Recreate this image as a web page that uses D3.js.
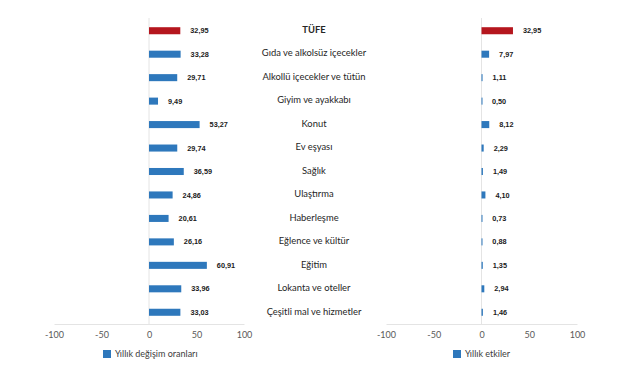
<!DOCTYPE html>
<html><head><meta charset="utf-8">
<script src="https://cdn.jsdelivr.net/npm/d3@7"></script>
<style>body{margin:0;background:#fff}svg{display:block}</style>
</head><body><svg id="c" width="641" height="380"></svg>
<script>
const categories = ["TÜFE","Gıda ve alkolsüz içecekler","Alkollü içecekler ve tütün","Giyim ve ayakkabı","Konut","Ev eşyası","Sağlık","Ulaştırma","Haberleşme","Eğlence ve kültür","Eğitim","Lokanta ve oteller","Çeşitli mal ve hizmetler"];
const yearlyChange = [32.95,33.28,29.71,9.49,53.27,29.74,36.59,24.86,20.61,26.16,60.91,33.96,33.03];
const yearlyEffect = [32.95,7.97,1.11,0.50,8.12,2.29,1.49,4.10,0.73,0.88,1.35,2.94,1.46];
const ticks = [-100,-50,0,50,100];
const legendLeft = "Yıllık değişim oranları";
const legendRight = "Yıllık etkiler";

const svg = d3.select("#c");
const blue = "#2E78BC", red = "#B5161E";
const fmt = v => v.toFixed(2).replace(".", ",");
const y = d3.scaleBand().domain(categories).range([19, 324]).paddingInner(0.7).paddingOuter(0.35);

function panel(values, x0, x1, legend, legX) {
  const x = d3.scaleLinear().domain([-100, 100]).range([x0, x1]);
  const g = svg.append("g");
  g.append("line").attr("x1", x(0)).attr("x2", x(0)).attr("y1", 18).attr("y2", 324)
    .attr("stroke", "#e4e4e4").attr("stroke-width", 1);
  const ax = g.append("g").attr("transform", "translate(0,324)")
    .call(d3.axisBottom(x).tickValues(ticks).tickSize(0).tickPadding(8).tickFormat(d => d));
  ax.select(".domain").attr("stroke", "#e4e4e4");
  ax.selectAll("text").attr("fill", "#595959").style("font-family", "Lato, 'Open Sans', sans-serif").style("font-size", "9px");
  g.selectAll("rect.bar").data(values).enter().append("rect")
    .attr("x", d => x(Math.min(0, d)))
    .attr("y", (d, i) => y(categories[i]))
    .attr("width", d => Math.max(1, Math.abs(x(d) - x(0))))
    .attr("height", y.bandwidth())
    .attr("fill", (d, i) => i === 0 ? red : blue);
  g.selectAll("text.val").data(values).enter().append("text")
    .attr("x", d => x(d) + 10)
    .attr("y", (d, i) => y(categories[i]) + y.bandwidth() / 2)
    .attr("dy", "0.35em")
    .style("font-family", "Arial, 'Liberation Sans', sans-serif")
    .style("font-size", "7.3px").style("font-weight", "bold").attr("fill", "#1a1a1a")
    .text(d => fmt(d));
  const lg = g.append("g").attr("transform", `translate(${legX},350)`);
  lg.append("rect").attr("width", 8).attr("height", 8).attr("fill", blue);
  lg.append("text").attr("x", 12).attr("y", 4).attr("dy", "0.35em")
    .style("font-family", "Lato, 'Open Sans', sans-serif").style("font-size", "9px").attr("fill", "#404040")
    .text(legend);
}

panel(yearlyChange, 54, 244, legendLeft, 103);
panel(yearlyEffect, 386, 577, legendRight, 453);

svg.append("g").selectAll("text").data(categories).enter().append("text")
  .attr("x", 314).attr("y", c => y(c) + y.bandwidth() / 2 - 1).attr("dy", "0.35em")
  .attr("text-anchor", "middle")
  .style("font-family", "Lato, 'Open Sans', sans-serif").style("font-size", "9.4px")
  .style("font-weight", (c, i) => i === 0 ? "bold" : "normal").attr("fill", "#262626")
  .text(c => c);
</script></body></html>
